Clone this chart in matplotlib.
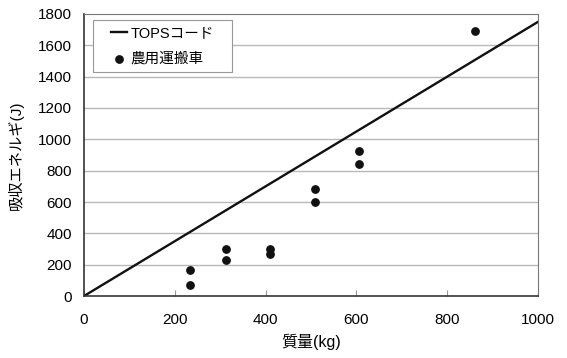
import matplotlib.pyplot as plt
from matplotlib.patches import Rectangle

plt.rcParams['font.family'] = ['Liberation Sans', 'Noto Sans CJK JP']

# TOPS code reference line
line_mass = [0, 1000]
line_energy = [0, 1750]

# measured points (farm carriers)
mass = [233, 233, 313, 313, 410, 410, 509, 509, 606, 606, 862]
energy = [166, 68, 298, 230, 298, 270, 681, 602, 923, 842, 1693]

x_ticks = [0, 200, 400, 600, 800, 1000]
y_ticks = [0, 200, 400, 600, 800, 1000, 1200, 1400, 1600, 1800]

fig, ax = plt.subplots(figsize=(5.67, 3.58), dpi=100)
fig.subplots_adjust(left=0.148, right=0.949, top=0.961, bottom=0.173)

# grid
for y in y_ticks[1:-1]:
    ax.axhline(y, color='#b8b8b8', linewidth=1.0, zorder=0)

ax.plot(line_mass, line_energy, color='#111111', linewidth=1.7, label='TOPSコード')
ax.scatter(mass, energy, s=28, color='#111111', label='農用運搬車', zorder=3)

ax.set_xlim(0, 1000)
ax.set_ylim(0, 1800)
ax.set_xticks(x_ticks)
ax.set_yticks(y_ticks)
ax.tick_params(axis='x', direction='in', length=4, color='#999999', pad=12, labelsize=11)
ax.tick_params(axis='y', length=0, pad=8.5, labelsize=11)

for side in ('top', 'right'):
    ax.spines[side].set_color('#777777')
for side in ('left', 'bottom'):
    ax.spines[side].set_color('#333333')
    ax.spines[side].set_linewidth(1.2)

ax.set_xlabel('質量(kg)', fontsize=11.5, labelpad=5)
ax.set_ylabel('吸収エネルギ(J)', fontsize=11, labelpad=10)

# legend box (wide padding left/right like the original)
box = Rectangle((0.02, 0.794), 0.306, 0.185, transform=ax.transAxes,
                facecolor='white', edgecolor='#999999', linewidth=0.8, zorder=4)
ax.add_patch(box)
leg = ax.legend(loc='center', bbox_to_anchor=(0.173, 0.8865), fontsize=10.5,
                frameon=False, handlelength=1.1, handletextpad=0.2,
                borderpad=0.2, labelspacing=0.75)
leg.set_zorder(5)

fig.savefig('out.png', dpi=100)
